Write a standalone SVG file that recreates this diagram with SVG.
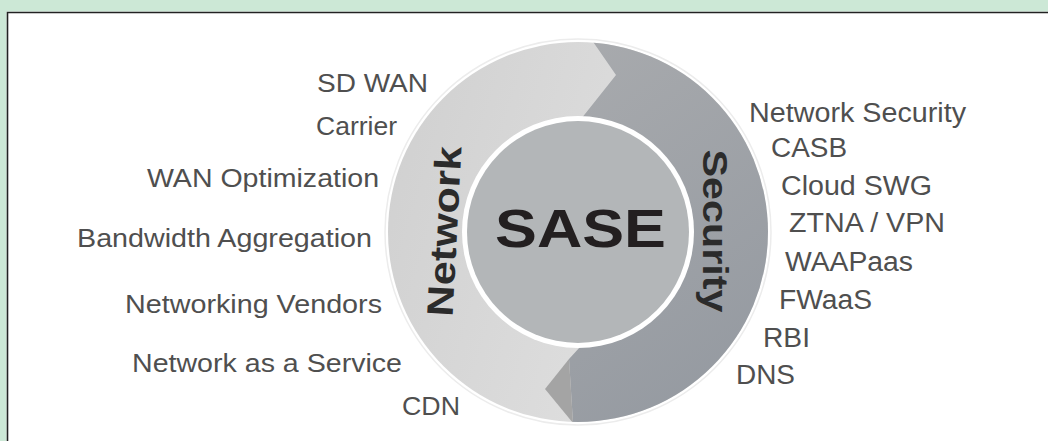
<svg xmlns="http://www.w3.org/2000/svg" width="1048" height="441" viewBox="0 0 1048 441">
  <style>
    .lbl { font-family: "Liberation Sans", Arial, sans-serif; font-size: 26px; fill: #4f4f4f; }
    .rl { font-size: 27px; }
    .seg { font-family: "Liberation Sans", Arial, sans-serif; font-weight: bold; fill: #2b2b2b; }
    .core { font-family: "Liberation Sans", Arial, sans-serif; font-weight: bold; font-size: 53px; fill: #231f20; }
  </style>
  <defs>
    <clipPath id="ringClip">
      <circle cx="578" cy="232" r="190"/>
    </clipPath>
    <linearGradient id="gNet" x1="0" y1="0" x2="1" y2="0.3">
      <stop offset="0" stop-color="#cfcfcf"/>
      <stop offset="1" stop-color="#e3e3e3"/>
    </linearGradient>
    <linearGradient id="gSec" x1="0" y1="0" x2="0.4" y2="1">
      <stop offset="0" stop-color="#a9abae"/>
      <stop offset="1" stop-color="#959aa1"/>
    </linearGradient>
  </defs>

  <!-- frame -->
  <rect x="0" y="0" width="1048" height="441" fill="#ffffff"/>
  <rect x="0" y="0" width="1048" height="11.5" fill="#cce8d6"/>
  <rect x="0" y="0" width="6.5" height="441" fill="#cce8d6"/>
  <path d="M7.5 441 V12.5 H1048" fill="none" stroke="#222222" stroke-width="1.6"/>

  <!-- ring -->
  <g id="ring">
    <circle cx="578" cy="232" r="193" fill="none" stroke="#ececec" stroke-width="1.5"/>
    <g clip-path="url(#ringClip)">
      <rect x="380" y="40" width="400" height="400" fill="url(#gNet)"/>
      <path d="M578 20 L616 75 L581 119 L580 347 L569 359 L573 423 L573 445 L800 445 L800 20 Z" fill="url(#gSec)"/>
      <path d="M569 359 L545 389 L573 423 Z" fill="#a4a4a4"/>
    </g>
    <circle cx="578" cy="232" r="116" fill="#ffffff"/>
    <circle cx="578" cy="232" r="111" fill="#b3b6b8"/>
  </g>

  <g id="core">
    <text class="core" x="495" y="247" textLength="171" lengthAdjust="spacingAndGlyphs">SASE</text>
  </g>

  <g id="network-label">
    <text class="seg" font-size="37" text-anchor="middle" textLength="170" lengthAdjust="spacingAndGlyphs" transform="translate(457 232) rotate(-87)">Network</text>
  </g>
  <g id="security-label">
    <text class="seg" font-size="35" text-anchor="middle" textLength="163" lengthAdjust="spacingAndGlyphs" transform="translate(703 231) rotate(90)">Security</text>
  </g>

  <g id="network-items">
    <text class="lbl" x="317" y="92" textLength="111" lengthAdjust="spacingAndGlyphs">SD WAN</text>
    <text class="lbl" x="316" y="135" textLength="81" lengthAdjust="spacingAndGlyphs">Carrier</text>
    <text class="lbl" x="147" y="187" textLength="232" lengthAdjust="spacingAndGlyphs">WAN Optimization</text>
    <text class="lbl" x="77" y="247" textLength="295" lengthAdjust="spacingAndGlyphs">Bandwidth Aggregation</text>
    <text class="lbl" x="125" y="313" textLength="257" lengthAdjust="spacingAndGlyphs">Networking Vendors</text>
    <text class="lbl" x="132" y="372" textLength="270" lengthAdjust="spacingAndGlyphs">Network as a Service</text>
    <text class="lbl" x="402" y="415" textLength="58" lengthAdjust="spacingAndGlyphs">CDN</text>
  </g>

  <g id="security-items">
    <text class="lbl rl" x="749" y="122" textLength="217" lengthAdjust="spacingAndGlyphs">Network Security</text>
    <text class="lbl rl" x="771" y="157" textLength="76" lengthAdjust="spacingAndGlyphs">CASB</text>
    <text class="lbl rl" x="781" y="195" textLength="151" lengthAdjust="spacingAndGlyphs">Cloud SWG</text>
    <text class="lbl rl" x="789" y="232" textLength="156" lengthAdjust="spacingAndGlyphs">ZTNA / VPN</text>
    <text class="lbl rl" x="785" y="271" textLength="128" lengthAdjust="spacingAndGlyphs">WAAPaas</text>
    <text class="lbl rl" x="779" y="309" textLength="93" lengthAdjust="spacingAndGlyphs">FWaaS</text>
    <text class="lbl rl" x="763" y="347" textLength="47" lengthAdjust="spacingAndGlyphs">RBI</text>
    <text class="lbl rl" x="736" y="384" textLength="59" lengthAdjust="spacingAndGlyphs">DNS</text>
  </g>
</svg>
